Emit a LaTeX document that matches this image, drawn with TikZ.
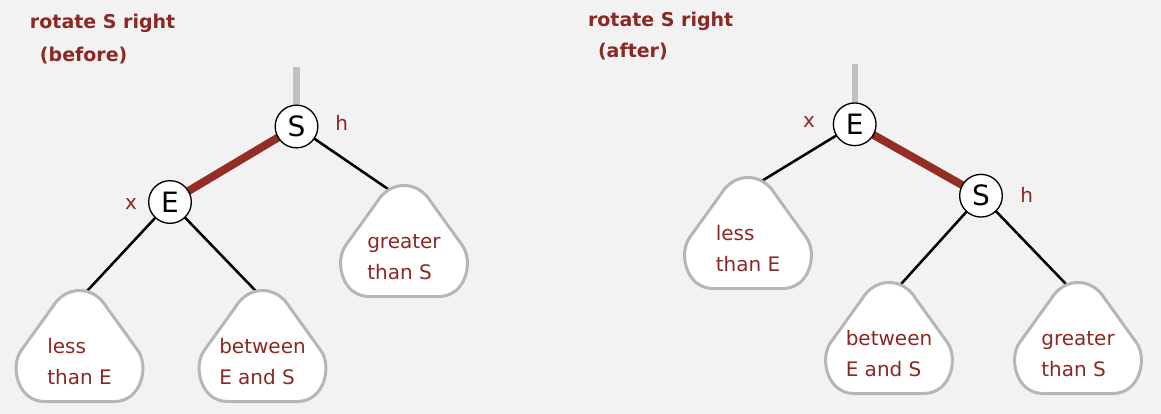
\documentclass[tikz,border=0pt]{standalone}
\usepackage{fontspec}
\setmainfont{DejaVu Sans}
\definecolor{bgc}{RGB}{242,242,242}
\definecolor{dred}{RGB}{140,40,35}
\definecolor{linkred}{RGB}{148,45,35}
\definecolor{tgray}{RGB}{182,182,182}
\definecolor{pgray}{RGB}{192,192,192}
\pgfdeclarelayer{back}
\pgfdeclarelayer{links}
\pgfsetlayers{back,links,main}
\newcommand\subtree[4]{%
  \begin{scope}[shift={(#2,#3)}]
  \path[tri] (-35,113.5) -- (35,113.5)
    .. controls (62,113.5) and (70,78) .. (58,62)
    -- (27,19) .. controls (14,-3) and (-14,-3) .. (-27,19)
    -- (-58,62) .. controls (-70,78) and (-62,113.5) .. (-35,113.5) -- cycle;
  \node[subtxt] (#1) at (0,74) {#4};
  \end{scope}
}
\begin{document}
\begin{tikzpicture}[x=0.75pt,y=-0.75pt,
  every node/.style={inner sep=0pt,outer sep=0pt},
  title/.style={font=\fontsize{14.25}{17}\selectfont\bfseries,text=dred,anchor=base west},
  key/.style={circle,draw=black,line width=1pt,fill=white,minimum size=32pt,font=\fontsize{21}{24}\selectfont},
  lab/.style={text=dred,font=\fontsize{15}{18}\selectfont},
  tri/.style={draw=tgray,line width=2.25pt,fill=white,line join=round},
  subtxt/.style={text=dred,font=\fontsize{15}{23.25}\selectfont,align=left,anchor=center},
  link/.style={line width=1.9pt,black},
  redlink/.style={line width=6pt,linkred},
  parent/.style={line width=4.8pt,pgray}]
\begin{pgfonlayer}{back}
\fill[bgc] (0,0) rectangle (1161,414);
\end{pgfonlayer}
\useasboundingbox (0,0) rectangle (1161,414);

% titles
\node[title] (tl1) at (30,28.3) {rotate S right};
\node[title] (tl2) at (40,61.5) {(before)};
\node[title] (tr1) at (588,26.7) {rotate S right};
\node[title] (tr2) at (598,57) {(after)};

% ---------- left tree (before) ----------
\node[key] (LS) at (296.5,126.5) {S};
\node[key] (LE) at (170,202) {E};
\node[lab] (Lh) at (341.7,123.3) {h};
\node[lab] (Lx) at (131,204) {x};
\coordinate (LStop) at (296.5,67);
\subtree{Lless}{79.5}{288}{less\\than E}
\subtree{Lbetw}{262.5}{288}{between\\E and S}
\subtree{Lgrt}{404}{183}{greater\\than S}
\coordinate (LlessIn) at (78.4,300.3);
\coordinate (LbetwIn) at (261.7,297.1);
\coordinate (LgrtIn) at (396.6,194.9);

% ---------- right tree (after) ----------
\node[key] (RE) at (854.7,124.3) {E};
\node[key] (RS) at (981,195.7) {S};
\node[lab] (Rx) at (809,121.7) {x};
\node[lab] (Rh) at (1026.7,195) {h};
\coordinate (REtop) at (854.7,64);
\subtree{Rless}{748}{175}{less\\than E}
\subtree{Rbetw}{889}{280}{between\\E and S}
\subtree{Rgrt}{1078}{280}{greater\\than S}
\coordinate (RlessIn) at (753,186.3);
\coordinate (RbetwIn) at (892.6,293.4);
\coordinate (RgrtIn) at (1073.7,292.1);

% ---------- connectors ----------
\begin{pgfonlayer}{links}
  \draw[parent] (LStop) -- (LS.center);
  \draw[redlink] (LS.center) -- (LE.center);
  \draw[link] (LE.center) -- (LlessIn);
  \draw[link] (LE.center) -- (LbetwIn);
  \draw[link] (LS.center) -- (LgrtIn);
  \draw[parent] (REtop) -- (RE.center);
  \draw[redlink] (RE.center) -- (RS.center);
  \draw[link] (RE.center) -- (RlessIn);
  \draw[link] (RS.center) -- (RbetwIn);
  \draw[link] (RS.center) -- (RgrtIn);
\end{pgfonlayer}
\end{tikzpicture}
\end{document}
